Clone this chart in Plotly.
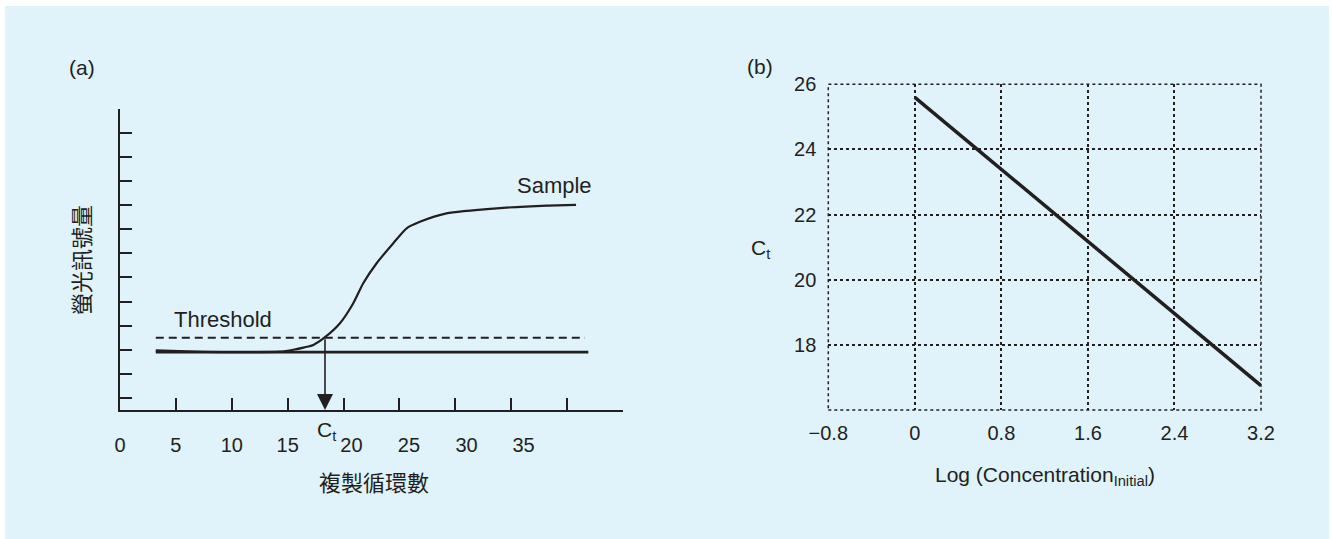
import plotly.graph_objects as go

# ---------- data ----------
# panel (a): amplification curve
cycles = [3.2, 6, 9, 12, 14.3, 15.5, 16.5, 17.3, 18.34, 19.68, 20.87, 21.76, 22.96,
          24.45, 25.64, 26.83, 29.2, 33.7, 38.2, 40.8]
signal = [2.47, 2.43, 2.40, 2.40, 2.42, 2.50, 2.60, 2.70, 3.02, 3.60, 4.43, 5.26, 6.09,
          6.92, 7.54, 7.81, 8.16, 8.37, 8.48, 8.51]
baseline_x = [3.2, 41.9]
baseline_y = [2.4, 2.4]
threshold_x = [3.2, 41.6]
threshold_y = [3.0, 3.0]
ct_cycle = 18.34
a_xticks = [5, 10, 15, 20, 25, 30, 35, 40]
a_xticklabels = ["0", "5", "10", "15", "20", "25", "30", "35"]
a_yticks = [0.5 + i for i in range(12)]

# panel (b): standard curve
log_conc = [0, 3.2]
ct_values = [25.6, 16.75]
b_xticks = [-0.8, 0, 0.8, 1.6, 2.4, 3.2]
b_xticktext = ["\u22120.8", "0", "0.8", "1.6", "2.4", "3.2"]
b_yticks = [18, 20, 22, 24, 26]

# ---------- styling ----------
W, H = 1332, 539
INK = "#231f20"
BG = "#e0f2fa"
FONT = "Liberation Sans, Arial, sans-serif"
CJK = "Noto Sans CJK TC, Noto Sans CJK SC, sans-serif"
# where the (a) tick labels sit along the axis (the reference nudges 20..35 right to make room for Ct)
a_label_at = [0, 5, 10, 15, 20.7, 25.85, 31.0, 36.1]


def px(x):
    return x / W


def py(y):
    return 1 - y / H


def label(x, y, text, size=21, family=FONT, xanchor="center", **kw):
    return dict(x=px(x), y=py(y), xref="paper", yref="paper", text=text,
                xanchor=xanchor, yanchor="middle", showarrow=False,
                font=dict(size=size, color=INK, family=family), **kw)


fig = go.Figure()

# panel (a)
fig.add_trace(go.Scatter(x=baseline_x, y=baseline_y, mode="lines",
                         line=dict(color=INK, width=2.6), xaxis="x", yaxis="y",
                         showlegend=False, hoverinfo="skip"))
fig.add_trace(go.Scatter(x=threshold_x, y=threshold_y, mode="lines",
                         line=dict(color=INK, width=2, dash="8px,5px"), xaxis="x", yaxis="y",
                         showlegend=False, hoverinfo="skip"))
fig.add_trace(go.Scatter(x=cycles, y=signal, mode="lines",
                         line=dict(color=INK, width=2.2, shape="spline", smoothing=0.6),
                         xaxis="x", yaxis="y", showlegend=False, hoverinfo="skip"))
# invisible carrier for the tick-label axis of (a)
fig.add_trace(go.Scatter(x=baseline_x, y=baseline_y, mode="lines", opacity=0,
                         line=dict(width=0), xaxis="x3", yaxis="y",
                         showlegend=False, hoverinfo="skip"))

# panel (b)
fig.add_trace(go.Scatter(x=log_conc, y=ct_values, mode="lines",
                         line=dict(color=INK, width=3.5), xaxis="x2", yaxis="y2",
                         showlegend=False, hoverinfo="skip"))

ydom_bottom = py(410)
xdom_a = [px(120), px(623)]

fig.update_layout(
    width=W, height=H,
    margin=dict(l=0, r=0, t=0, b=0, autoexpand=False),
    paper_bgcolor="white",
    plot_bgcolor="rgba(0,0,0,0)",
    font=dict(family=FONT, size=20, color=INK),
    xaxis=dict(domain=xdom_a, range=[0, 45], anchor="y", automargin=False,
               showline=True, linecolor=INK, linewidth=2,
               ticks="inside", ticklen=12, tickwidth=2, tickcolor=INK,
               tickvals=a_xticks, showticklabels=False,
               showgrid=False, zeroline=False, fixedrange=True),
    xaxis3=dict(overlaying="x", range=[0, 45], anchor="y", automargin=False,
                showline=False, ticks="", tickvals=a_label_at, ticktext=a_xticklabels,
                ticklabelstandoff=21, tickfont=dict(size=20, color=INK),
                showgrid=False, zeroline=False, fixedrange=True),
    yaxis=dict(domain=[ydom_bottom, py(108.75)], range=[0, 12.5], anchor="x", automargin=False,
               showline=True, linecolor=INK, linewidth=2,
               ticks="inside", ticklen=12, tickwidth=2, tickcolor=INK,
               tickvals=a_yticks, showticklabels=False,
               showgrid=False, zeroline=False, fixedrange=True),
    xaxis2=dict(domain=[px(828.3), px(1261)], range=[-0.8, 3.2], anchor="y2", automargin=False,
                showline=False, ticks="", tickvals=b_xticks, ticktext=b_xticktext,
                ticklabelstandoff=9, tickfont=dict(size=20, color=INK),
                showgrid=True, gridcolor=INK, gridwidth=1.5, griddash="dot",
                zeroline=False, fixedrange=True),
    yaxis2=dict(domain=[ydom_bottom, py(84.3)], range=[16, 26], anchor="x2", automargin=False,
                showline=False, ticks="", tickvals=b_yticks,
                ticklabelstandoff=11, tickfont=dict(size=20, color=INK),
                showgrid=True, gridcolor=INK, gridwidth=1.5, griddash="dot",
                zeroline=False, fixedrange=True),
    shapes=[
        dict(type="rect", xref="paper", yref="paper", x0=px(5), x1=px(1329), y0=0, y1=py(6),
             fillcolor=BG, line=dict(width=0), layer="below"),
        dict(type="rect", xref="x2 domain", yref="y2 domain", x0=0, x1=1, y0=0, y1=1,
             line=dict(color=INK, width=1.5, dash="dot"), layer="above"),
    ],
    annotations=[
        # Ct arrow
        dict(x=ct_cycle, y=0, ax=ct_cycle, ay=threshold_y[0], xref="x", yref="y",
             axref="x", ayref="y", showarrow=True, arrowhead=2, arrowsize=2,
             arrowwidth=1.6, arrowcolor=INK, text=""),
        label(326, 431, "C<sub>t</sub>"),
        label(172, 319, "Threshold", size=22, xanchor="left"),
        label(554, 185, "Sample", size=22),
        label(82, 68, "(a)"),
        label(760, 66, "(b)"),
        label(80, 260, "螢光訊號量", size=22, family=CJK, textangle=-90),
        label(374, 481, "複製循環數", size=22, family=CJK),
        label(760, 249, "C<sub>t</sub>"),
        label(1045, 476, "Log (Concentration<sub>Initial</sub>)"),
    ],
)

fig.write_html("out.html", config={"displayModeBar": False},
               post_script="document.body.style.margin='0';document.body.style.overflow='hidden';")
